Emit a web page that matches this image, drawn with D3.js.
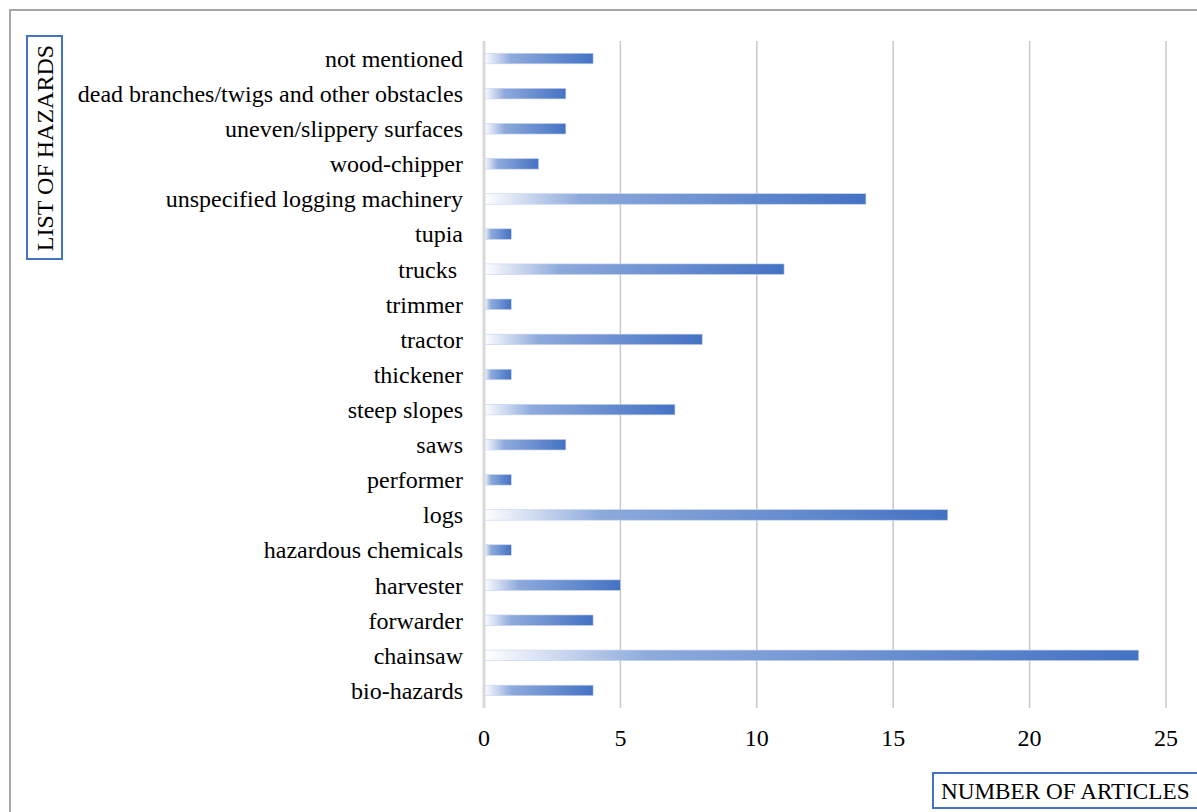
<!DOCTYPE html>
<html>
<head>
<meta charset="utf-8">
<script src="https://cdn.jsdelivr.net/npm/d3@7"></script>
<style>
  body { margin: 0; background: #fff; }
  text { font-family: "Liberation Serif", "Times New Roman", serif; }
</style>
</head>
<body>
<svg id="main" width="1197" height="812"></svg>
<script>
// hazards, bottom to top as in the chart
const hazards = ["bio-hazards", "chainsaw", "forwarder", "harvester", "hazardous chemicals",
  "logs", "performer", "saws", "steep slopes", "thickener", "tractor", "trimmer", "trucks ",
  "tupia", "unspecified logging machinery", "wood-chipper", "uneven/slippery surfaces",
  "dead branches/twigs and other obstacles", "not mentioned"];
const articles = [4, 24, 4, 5, 1, 17, 1, 3, 7, 1, 8, 1, 11, 1, 14, 2, 3, 3, 4];
const xTicks = [0, 5, 10, 15, 20, 25];

function draw() {
  const svg = d3.select("#main");

  // outer chart border (cut off on right and bottom)
  svg.append('rect')
    .attr('x', 10).attr('y', 10)
    .attr('width', 1300).attr('height', 900)
    .attr('fill', 'none')
    .attr('stroke', '#a6a6a6')
    .attr('stroke-width', 2);

  const x = d3.scaleLinear().domain([0, 25]).range([484, 1166]);
  const y = d3.scaleBand().domain(hazards).range([708, 41]).paddingInner(0.7).paddingOuter(0.35);

  const defs = svg.append('defs');
  const grad = defs.append('linearGradient')
    .attr('id', 'barGrad')
    .attr('x1', '0%').attr('x2', '100%').attr('y1', '0%').attr('y2', '0%');
  grad.append('stop').attr('offset', '0%').attr('stop-color', '#ffffff');
  grad.append('stop').attr('offset', '25%').attr('stop-color', '#8eaadc');
  grad.append('stop').attr('offset', '100%').attr('stop-color', '#4472c4');

  // gridlines
  svg.selectAll('.grid')
    .data(xTicks.slice(1))
    .enter().append('line')
    .attr('x1', d => x(d)).attr('x2', d => x(d))
    .attr('y1', 41).attr('y2', 708)
    .attr('stroke', '#c9c9c9')
    .attr('stroke-width', 1.5);

  // bars
  svg.selectAll('.bar')
    .data(hazards)
    .enter().append('rect')
    .attr('x', x(0))
    .attr('y', d => y(d))
    .attr('width', (d, i) => x(articles[i]) - x(0))
    .attr('height', y.bandwidth())
    .attr('fill', 'url(#barGrad)')
    .attr('stroke', '#c5d3ee')
    .attr('stroke-width', 0.6);

  // zero axis line
  svg.append('line')
    .attr('x1', x(0)).attr('x2', x(0))
    .attr('y1', 41).attr('y2', 708)
    .attr('stroke', '#d9d9d9')
    .attr('stroke-width', 3);

  // category labels
  svg.selectAll('.cat')
    .data(hazards)
    .enter().append('text')
    .attr('x', 463)
    .attr('y', d => y(d) + y.bandwidth() / 2)
    .attr('dy', '0.35em')
    .attr('text-anchor', 'end')
    .style('white-space', 'pre')
    .attr('font-size', 24)
    .attr('fill', '#000')
    .text(d => d);

  // x tick labels
  svg.selectAll('.tick')
    .data(xTicks)
    .enter().append('text')
    .attr('x', d => x(d))
    .attr('y', 746)
    .attr('text-anchor', 'middle')
    .attr('font-size', 24)
    .attr('fill', '#000')
    .text(d => d);

  // y axis title box
  svg.append('rect')
    .attr('x', 27).attr('y', 36)
    .attr('width', 35).attr('height', 223)
    .attr('fill', '#fff')
    .attr('stroke', '#4472c4')
    .attr('stroke-width', 2);
  svg.append('text')
    .attr('transform', 'translate(52.5,148) rotate(-90)')
    .attr('text-anchor', 'middle')
    .attr('font-size', 24)
    .attr('fill', '#000')
    .text('LIST OF HAZARDS');

  // x axis title box
  svg.append('rect')
    .attr('x', 933).attr('y', 773)
    .attr('width', 300).attr('height', 35)
    .attr('fill', '#fff')
    .attr('stroke', '#4472c4')
    .attr('stroke-width', 2);
  svg.append('text')
    .attr('x', 941)
    .attr('y', 799)
    .attr('font-size', 23.2)
    .attr('fill', '#000')
    .text('NUMBER OF ARTICLES');
}

draw();
</script>
</body>
</html>
